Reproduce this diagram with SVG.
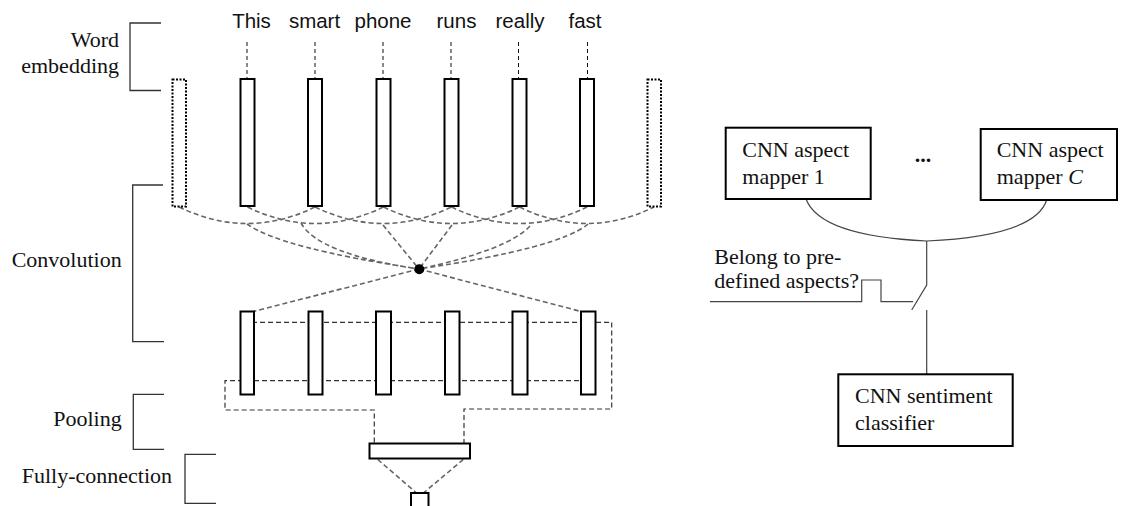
<svg xmlns="http://www.w3.org/2000/svg" width="1122" height="506" viewBox="0 0 1122 506">
<style>
.lbl{font-family:"Liberation Serif","Times New Roman",serif;font-size:22px;fill:#111}
.word{font-family:"Liberation Sans",Arial,sans-serif;font-size:20.5px;fill:#111;text-anchor:middle}
.bar{fill:#fff;stroke:#000;stroke-width:2}
.dot{fill:none;stroke:#000;stroke-width:2;stroke-dasharray:2 1.5}
.box{fill:#fff;stroke:#000;stroke-width:2}
.brk{fill:none;stroke:#333;stroke-width:1.3}
.wd{fill:none;stroke:#111;stroke-width:1;stroke-dasharray:4 3}
.cv{fill:none;stroke:#666;stroke-width:1.6;stroke-dasharray:5 3}
.pl{fill:none;stroke:#333;stroke-width:1.2;stroke-dasharray:5 3}
.sl{fill:none;stroke:#444;stroke-width:1.2}
</style>
<rect width="1122" height="506" fill="#fff"/>

<g id="brackets">
<path class="brk" d="M161,23 H130 V90.5 H161"/>
<path class="brk" d="M163,185 H132.7 V341.7 H164"/>
<path class="brk" d="M164,394.3 H133.3 V449.3 H164"/>
<path class="brk" d="M216,454.3 H185 V503.3 H216"/>
</g>
<g id="labels">
<text class="lbl" x="119" y="47" text-anchor="end">Word</text>
<text class="lbl" x="119" y="73" text-anchor="end">embedding</text>
<text class="lbl" x="121.7" y="267.3" text-anchor="end">Convolution</text>
<text class="lbl" x="121.7" y="426" text-anchor="end">Pooling</text>
<text class="lbl" x="172" y="482.7" text-anchor="end">Fully-connection</text>
</g>
<g id="words">
<text class="word" x="251.5" y="28.3">This</text>
<text class="word" x="314.5" y="28.3">smart</text>
<text class="word" x="383" y="28.3">phone</text>
<text class="word" x="456.5" y="28.3">runs</text>
<text class="word" x="520" y="28.3">really</text>
<text class="word" x="585" y="28.3">fast</text>
</g>

<g id="connectors">
<path class="wd" d="M247,42 V79 M315,42 V79 M383,42 V79 M451,42 V79 M518.5,42 V79 M587.5,42 V79"/>
<path class="cv" d="M179,207 Q247.5,240 315,207 M247.5,207 Q315,240 383.5,207 M315,207 Q383.5,240 451.5,207 M383.5,207 Q451.5,240 519.5,207 M451.5,207 Q519.5,240 587,207 M519.5,207 Q587,240 654,207"/>
<path class="cv" d="M247,224 Q280,248 419,269 M301,223 Q318,254 419,269 M383,225 L419,269 M452,225 L419,269 M530,226 Q508,250 419,269 M588,224 Q560,248 419,269"/>
<path class="cv" d="M419,269 L253.5,311.5 M419,269 L581,311.5"/>
<path class="pl" d="M244,322.3 H611.7 V409 H464 V443.3"/>
<path class="pl" d="M595,380.7 H225 V410 H374.3 V443.3"/>
<path class="cv" d="M377.7,459.5 L416,492.5 M463.3,459.5 L424,492.5"/>
<circle cx="419.3" cy="269.3" r="5" fill="#000"/>
</g>

<g id="embedding">
<rect class="dot" x="172.5" y="79.5" width="13.5" height="127"/>
<rect class="bar" x="240.5" y="79" width="14" height="127"/>
<rect class="bar" x="308" y="79" width="14" height="127"/>
<rect class="bar" x="376.5" y="79" width="14" height="127"/>
<rect class="bar" x="444.5" y="79" width="14" height="127"/>
<rect class="bar" x="512.5" y="79" width="14" height="127"/>
<rect class="bar" x="580" y="79" width="14" height="127"/>
<rect class="dot" x="647.5" y="79.5" width="13.5" height="127"/>
</g>
<g id="pool-maps">
<rect class="bar" x="240.5" y="311.5" width="13.5" height="83"/>
<rect class="bar" x="308.5" y="311.5" width="14" height="83"/>
<rect class="bar" x="376" y="311.5" width="15" height="83"/>
<rect class="bar" x="445" y="311.5" width="14.5" height="83"/>
<rect class="bar" x="512.5" y="311.5" width="15" height="83"/>
<rect class="bar" x="581" y="311.5" width="14.5" height="83"/>
</g>
<g id="pooled">
<rect class="bar" x="369.5" y="443.5" width="100.5" height="15"/>
</g>
<g id="output">
<rect class="bar" x="411" y="493" width="17.5" height="20"/>
</g>

<g id="right-connectors">
<path class="sl" d="M806,199 Q820,236 926.7,241 Q1035,236 1046.7,200"/>
<path class="sl" d="M926.7,241 V285 L911.7,310 M926.7,310 V374"/>
<path class="sl" d="M710,301.7 H861.7 V280 H881 V301.7 H913"/>
</g>
<g id="mapper1">
<rect class="box" x="725.7" y="127.7" width="145" height="71.3"/>
<text class="lbl" x="742.3" y="157.3">CNN aspect</text>
<text class="lbl" x="742.3" y="184.3">mapper 1</text>
</g>
<g id="ellipsis">
<text class="lbl" x="923" y="161.7" text-anchor="middle" font-weight="bold">...</text>
</g>
<g id="mapperC">
<rect class="box" x="980.7" y="129" width="136.3" height="71"/>
<text class="lbl" x="996.7" y="157.3">CNN aspect</text>
<text class="lbl" x="996.7" y="184.3">mapper <tspan font-style="italic">C</tspan></text>
</g>
<g id="switch-label">
<text class="lbl" x="714.3" y="264.3">Belong to pre-</text>
<text class="lbl" x="714.3" y="288.3">defined aspects?</text>
</g>
<g id="sentiment">
<rect class="box" x="838.3" y="374.3" width="174.4" height="71.7"/>
<text class="lbl" x="855" y="403.3">CNN sentiment</text>
<text class="lbl" x="855" y="430">classifier</text>
</g>
</svg>
